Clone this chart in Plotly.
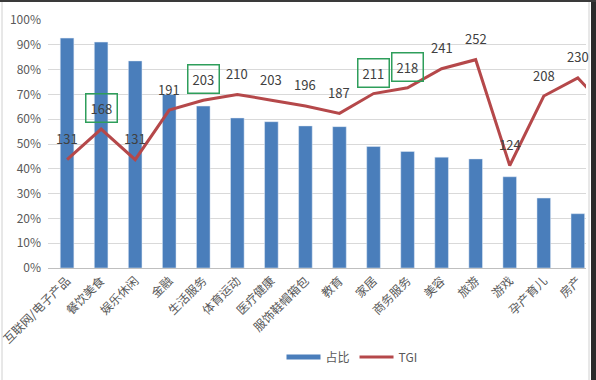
import plotly.graph_objects as go

categories = ["互联网/电子产品", "餐饮美食", "娱乐休闲", "金融", "生活服务", "体育运动",
              "医疗健康", "服饰鞋帽箱包", "教育", "家居", "商务服务", "美容", "旅游",
              "游戏", "孕产育儿", "房产", "其他"]
share = [0.927, 0.911, 0.835, 0.700, 0.653, 0.605, 0.590, 0.573, 0.570, 0.490,
         0.470, 0.447, 0.440, 0.368, 0.282, 0.219, None]
tgi = [131, 168, 131, 191, 203, 210, 203, 196, 187, 211, 218, 241, 252, 124, 208, 230, 186]
boxed = ["餐饮美食", "生活服务", "家居", "商务服务"]
n_visible = 16

FONT = "Noto Sans CJK SC, Noto Sans, sans-serif"
BLUE = "#4a7ebb"
RED = "#b5484a"
GREEN = "#2e9e5b"
TXT = "#404040"

fig = go.Figure()
fig.add_trace(go.Bar(x=categories, y=share, marker_color=BLUE, width=0.4,
                     showlegend=False, name="占比"))
fig.add_trace(go.Scatter(x=categories, y=tgi, yaxis="y2", mode="lines",
                         line=dict(color=RED, width=3), showlegend=False, name="TGI"))
# legend entries drawn as lines, like the original
fig.add_trace(go.Scatter(x=[None], y=[None], mode="lines", name="占比",
                         line=dict(color=BLUE, width=5)))
fig.add_trace(go.Scatter(x=[None], y=[None], mode="lines", name="TGI",
                         line=dict(color=RED, width=3)))

annotations = []
for c, v in zip(categories[:n_visible], tgi[:n_visible]):
    b = c in boxed
    annotations.append(dict(x=c, y=v, xref="x", yref="y2", text=str(v),
                            showarrow=False, yshift=21,
                            font=dict(family=FONT, size=13, color=TXT),
                            bordercolor=GREEN if b else "rgba(0,0,0,0)",
                            borderwidth=1.5 if b else 0, borderpad=4))

L, R, T, B = 48, 10, 20, 112
W, H = 596, 380
pw, ph = W - L - R, H - T - B
def px(x):
    return (x - L) / pw
def py(y):
    return (H - B - y) / ph

shapes = [
    dict(type="rect", xref="paper", yref="paper", x0=px(591), x1=px(597),
         y0=py(381), y1=py(-1), fillcolor="#2b2b2b", line=dict(width=0), layer="above"),
    dict(type="rect", xref="paper", yref="paper", x0=px(-1), x1=px(597),
         y0=py(2), y1=py(-1), fillcolor="#3a3a3a", line=dict(width=0), layer="above"),
    dict(type="line", xref="paper", yref="paper", x0=px(589), x1=px(589),
         y0=py(380), y1=py(2), line=dict(color="#d0d0d0", width=1)),
    dict(type="line", xref="paper", yref="paper", x0=px(2), x1=px(2),
         y0=py(380), y1=py(2), line=dict(color="#d0d0d0", width=1)),
]

fig.update_layout(
    width=W, height=H, margin=dict(l=L, r=R, t=T, b=B, autoexpand=False),
    paper_bgcolor="white", plot_bgcolor="white",
    font=dict(family=FONT, size=12, color="#595959"),
    xaxis=dict(type="category", range=[-0.56, 15.24], tickangle=-45, automargin=False,
               showgrid=False, showline=True, linecolor="#bfbfbf", ticks="",
               tickfont=dict(size=12, color="#595959")),
    yaxis=dict(range=[0, 1.0], tickformat=".0%", dtick=0.1, showgrid=True, automargin=False,
               gridcolor="#d9d9d9", zeroline=False, showline=False, ticks="",
               ticklabelstandoff=6, tickfont=dict(size=12, color="#595959")),
    yaxis2=dict(range=[0, 300], overlaying="y", side="right", visible=False),
    legend=dict(orientation="h", x=px(352), xanchor="center", y=py(357), yanchor="middle",
                font=dict(size=12, color="#595959"), itemwidth=34),
    bargap=0.6,
    annotations=annotations,
    shapes=shapes,
)

fig.write_html("out.html", config={"displayModeBar": False},
               post_script="document.body.style.margin='0';document.body.style.overflow='hidden';")
